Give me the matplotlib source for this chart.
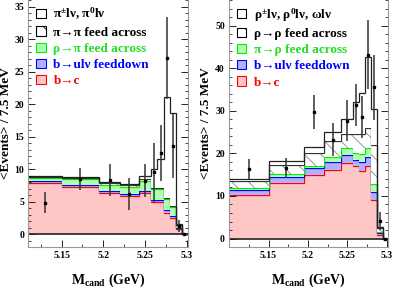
import numpy as np
import matplotlib
matplotlib.use('Agg')
import matplotlib.pyplot as plt
from matplotlib.patches import Patch
from matplotlib.ticker import MultipleLocator, FixedLocator

plt.rcParams['font.family'] = ['Liberation Serif', 'DejaVu Serif']
plt.rcParams['font.weight'] = 'bold'
plt.rcParams['mathtext.fontset'] = 'custom'
plt.rcParams['mathtext.rm'] = 'Liberation Serif:bold'
plt.rcParams['mathtext.it'] = 'Liberation Serif:bold'
plt.rcParams['mathtext.bf'] = 'Liberation Serif:bold'
plt.rcParams['hatch.linewidth'] = 0.6

# bin edges (GeV)
edges_pi = [5.11, 5.15, 5.195, 5.22, 5.2425, 5.2575, 5.265, 5.2725, 5.28, 5.2875, 5.295, 5.30]
edges_rho = [5.10, 5.15, 5.195, 5.22, 5.2425, 5.2575, 5.265, 5.2725, 5.28, 5.2875, 5.295, 5.30]
xticks = [5.15, 5.20, 5.25, 5.30]
xtick_labels = ['5.15', '5.2', '5.25', '5.3']

# left panel (pi) components, bottom to top
pi_bc = [7.8, 7.3, 6.3, 5.9, 6.3, 4.9, 4.9, 3.2, 2.5, 0.8, 0.0]
pi_bu = [0.3, 0.2, 0.25, 0.25, 0.3, 0.4, 0.4, 0.5, 0.3, 0.2, 0.0]
pi_rhofeed = [0.5, 0.9, 1.05, 1.15, 1.5, 1.6, 1.6, 1.7, 1.3, 0.2, 0.0]
pi_pifeed = [0.25, 0.2, 0.2, 0.2, 0.3, 0.2, 0.2, 0.2, 0.2, 0.2, 0.0]
pi_sig = [0.15, 0.2, 0.2, 0.2, 0.5, 2.9, 4.5, 15.5, 14.3, 0.2, 0.0]
pi_data = [4.8, 8.45, 8.35, 6.15, 8.2, 9.5, 12.5, 27.1, 13.5, 1.2, 0.0]
pi_err = [1.6, 1.75, 2.5, 2.4, 2.5, 4.5, 4.3, 6.3, 4.9, 0.9, 0.0]

# right panel (rho) components, bottom to top
rho_bc = [10.3, 13.1, 14.8, 16.2, 17.7, 17.1, 15.9, 17.1, 9.1, 0.9, 0.0]
rho_bu = [1.0, 1.4, 1.7, 1.8, 1.8, 1.4, 2.0, 2.1, 1.9, 0.3, 0.0]
rho_pifeed = [0.6, 0.7, 0.5, 1.2, 1.7, 1.6, 1.9, 2.1, 1.9, 0.4, 0.0]
rho_rhofeed = [1.5, 2.0, 3.1, 3.6, 3.4, 4.5, 4.8, 4.7, 9.1, 0.9, 0.0]
rho_sig = [0.6, 0.9, 1.3, 2.1, 3.4, 7.4, 9.6, 16.7, 8.4, 0.2, 0.0]
rho_data = [16.3, 16.5, 29.6, 23.2, 27.7, 31.3, 28.6, 43.2, 35.5, 4.1, 0.0]
rho_err = [2.3, 2.3, 4.0, 3.9, 4.9, 4.9, 4.9, 8.2, 7.6, 2.2, 0.0]

pi_labels = ['π$^{\\pm}$lν, π$^{0}$lν', 'π→π feed across', 'ρ→π feed across',
             'b→ulν feeddown', 'b→c']
rho_labels = ['ρ$^{\\pm}$lν, ρ$^{0}$lν, ωlν', 'ρ→ρ feed across', 'π→ρ feed across',
              'b→ulν feeddown', 'b→c']

RED_F, RED_L = '#ffc6c6', '#ff0000'
BLUE_F, BLUE_L = '#b0b0ff', '#0000ff'
GREEN_F, GREEN_L = '#b0ffb0', '#00ee00'


def draw_panel(ax, edges, bc, bu, green, hatched, sig, data, err, labels,
               ymax, ymajor, yminor, ylab_x):
    edges = np.array(edges)
    layers = [
        (bc, RED_F, RED_L, None),
        (bu, BLUE_F, BLUE_L, None),
        (green, GREEN_F, GREEN_L, None),
        (hatched, 'white', '#333333', '\\\\'),
        (sig, 'white', '#222222', None),
    ]
    base = np.zeros(len(edges) - 1)
    for vals, face, line, hatch in layers:
        top = base + np.array(vals)
        ax.stairs(top, edges, baseline=base, fill=True, facecolor=face,
                  edgecolor='#888888' if hatch else face, hatch=hatch, lw=0)
        ax.stairs(top, edges, baseline=None, color=line, lw=0.9)
        base = top
    ax.axhline(0, color='#222222', lw=1.2)

    centers = 0.5 * (edges[1:] + edges[:-1])
    ax.errorbar(centers, data, yerr=err, fmt='s', ms=1.8, color='black',
                ecolor='#333333', elinewidth=1.1, capsize=0)

    ax.set_xlim(edges[0], 5.302)
    ax.set_ylim(-2, ymax)
    ax.xaxis.set_major_locator(FixedLocator(xticks))
    ax.set_xticklabels(xtick_labels)
    ax.xaxis.set_minor_locator(MultipleLocator(0.025))
    ax.yaxis.set_major_locator(MultipleLocator(ymajor))
    ax.yaxis.set_minor_locator(MultipleLocator(yminor))
    ax.tick_params(axis='both', which='both', direction='in', labelsize=7, right=True, top=False)
    ax.tick_params(axis='both', which='major', length=5, width=0.6)
    ax.tick_params(axis='both', which='minor', length=2.5, width=0.5)
    ax.tick_params(axis='x', pad=3)
    ax.tick_params(axis='y', pad=3)
    ax.spines['top'].set_visible(False)
    for s in ['left', 'right', 'bottom']:
        ax.spines[s].set_color('#999999')
        ax.spines[s].set_linewidth(0.8)

    ax.set_xlabel('M$_{\\mathbf{cand}}$ (GeV)', fontsize=10, fontweight='bold')
    ax.xaxis.set_label_coords(0.5, -0.1)
    ax.set_ylabel('<Events> / 7.5 MeV', fontsize=9.5, fontweight='bold')
    ax.yaxis.set_label_coords(ylab_x, 0.5)

    handles = [
        Patch(facecolor='white', edgecolor='black', lw=0.8),
        Patch(facecolor='white', edgecolor='black', lw=0.8, hatch='\\\\'),
        Patch(facecolor=GREEN_F, edgecolor=GREEN_L, lw=0.8),
        Patch(facecolor=BLUE_F, edgecolor=BLUE_L, lw=0.8),
        Patch(facecolor=RED_F, edgecolor=RED_L, lw=0.8),
    ]
    ax.legend(handles, labels, loc='upper left', bbox_to_anchor=(0.05, 0.975),
              frameon=False, handlelength=0.7, handleheight=0.7,
              handletextpad=0.6, labelspacing=0.3, borderpad=0, borderaxespad=0,
              labelcolor=['black', 'black', '#22dd22', '#0000ff', '#ff0000'],
              prop={'weight': 'bold', 'size': 9.5})


fig = plt.figure(figsize=(3.93, 2.91), dpi=100)
axL = fig.add_axes([0.072, 0.151, 0.407, 0.849])
axR = fig.add_axes([0.583, 0.151, 0.405, 0.849])

draw_panel(axL, edges_pi, pi_bc, pi_bu, pi_rhofeed, pi_pifeed, pi_sig,
           pi_data, pi_err, pi_labels, 36.0, 5, 1, -0.105)
draw_panel(axR, edges_rho, rho_bc, rho_bu, rho_pifeed, rho_rhofeed, rho_sig,
           rho_data, rho_err, rho_labels, 56.0, 10, 2, -0.11)

fig.savefig('out.png', dpi=100)
